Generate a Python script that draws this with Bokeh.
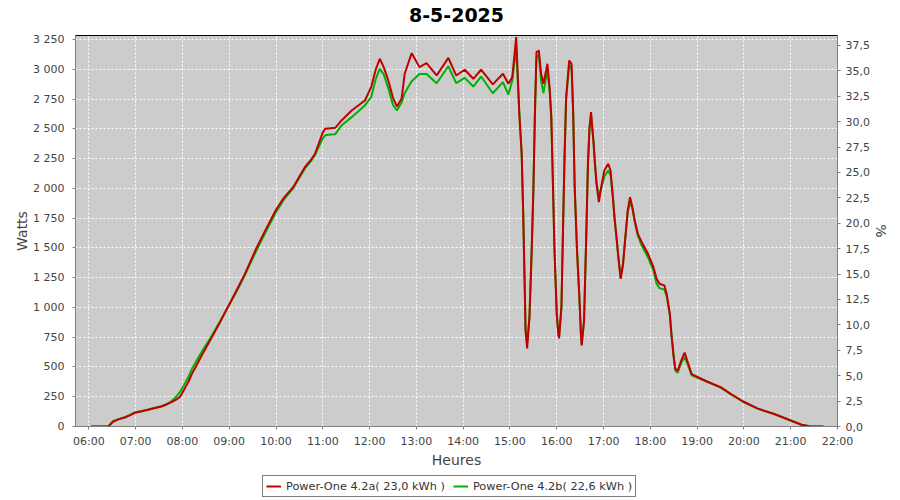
from bokeh.plotting import figure
from bokeh.layouts import column
from bokeh.models import (Range1d, LinearAxis, FixedTicker, CustomJSTickFormatter,
                          Legend, LegendItem, ColumnDataSource, Label)
from bokeh.embed import file_html
from bokeh.resources import INLINE

title = "8-5-2025"
series_a_name = "Power-One 4.2a( 23,0 kWh )"
series_b_name = "Power-One 4.2b( 22,6 kWh )"

times = ["06:03", "06:25", "06:31", "06:38", "06:46", "06:53", "06:59", "07:08", "07:16", "07:25",
         "07:33", "07:40", "07:46", "07:52", "07:57", "08:03", "08:08", "08:12", "08:17", "08:25",
         "08:37", "08:47", "08:58", "09:10", "09:20", "09:35", "09:45", "10:00", "10:10", "10:22",
         "10:30", "10:37", "10:45", "10:50", "10:55", "11:00", "11:03", "11:10", "11:16", "11:24",
         "11:37", "11:54", "12:02", "12:08", "12:13", "12:18", "12:24", "12:30", "12:35", "12:41",
         "12:45", "12:54", "13:04", "13:13", "13:26", "13:41", "13:51", "14:02", "14:13", "14:23",
         "14:38", "14:51", "14:58", "15:03", "15:08", "15:12", "15:15", "15:17", "15:19", "15:20",
         "15:22", "15:25", "15:28", "15:30", "15:32", "15:34", "15:37", "15:40", "15:43", "15:48",
         "15:51", "15:53", "15:55", "15:57", "16:00", "16:02", "16:03", "16:06", "16:08", "16:10",
         "16:12", "16:16", "16:19", "16:21", "16:23", "16:26", "16:29", "16:31", "16:32", "16:35",
         "16:38", "16:40", "16:42", "16:44", "16:47", "16:49", "16:51", "16:54", "16:57", "17:01",
         "17:06", "17:09", "17:12", "17:14", "17:17", "17:19", "17:22", "17:25", "17:28", "17:31",
         "17:34", "17:37", "17:40", "17:44", "17:49", "17:57", "18:04", "18:08", "18:12", "18:18",
         "18:21", "18:25", "18:27", "18:30", "18:32", "18:35", "18:40", "18:44", "18:48", "18:53",
         "18:59", "19:12", "19:30", "19:44", "19:59", "20:18", "20:39", "21:00", "21:14", "21:24",
         "21:42"]

watts_a = [0, 0, 40, 60, 75, 95, 115, 128, 140, 155,
           168, 185, 204, 225, 250, 320, 380, 440, 500, 600,
           740, 860, 1000, 1150, 1280, 1500, 1630, 1820, 1920, 2010,
           2100, 2178, 2240, 2290, 2380, 2470, 2500, 2505, 2508, 2570,
           2654, 2738, 2850, 3000, 3088, 3020, 2906, 2760, 2688, 2752,
           2962, 3135, 3018, 3051, 2948, 3096, 2948, 2996, 2920, 2996,
           2873, 2962, 2878, 2934, 3270, 2629, 2293, 1789, 1142, 806,
           655, 918, 1506, 1982, 2626, 3144, 3158, 2962, 2878, 3046,
           2836, 2600, 2066, 1506, 946, 778, 740, 1002, 1646, 2262,
           2766, 3074, 3046, 2654, 2010, 1478, 1086, 778, 680, 890,
           1646, 2206, 2514, 2640, 2402, 2206, 2038, 1884, 2010, 2150,
           2206, 2150, 1926, 1758, 1562, 1422, 1240, 1366, 1590, 1814,
           1926, 1842, 1730, 1618, 1548, 1450, 1338, 1240, 1198, 1184,
           1114, 946, 778, 582, 484, 470, 560, 620, 540, 440,
           420, 380, 330, 270, 210, 150, 105, 50, 15, 2,
           0]

watts_b = [0, 0, 45, 62, 78, 98, 118, 130, 142, 157,
           170, 190, 212, 250, 290, 360, 420, 480, 540, 630,
           755, 870, 1000, 1140, 1270, 1480, 1610, 1800, 1905, 2000,
           2090, 2165, 2230, 2280, 2350, 2420, 2445, 2452, 2455, 2528,
           2598, 2696, 2766, 2920, 3004, 2960, 2840, 2700, 2654, 2720,
           2800, 2900, 2960, 2960, 2883, 3025, 2883, 2928, 2855, 2939,
           2799, 2892, 2788, 2906, 3186, 2629, 2293, 1789, 1142, 820,
           700, 918, 1506, 1982, 2626, 3100, 3120, 2900, 2800, 3000,
           2800, 2600, 2066, 1506, 946, 778, 760, 1002, 1646, 2262,
           2740, 3040, 3000, 2654, 2010, 1478, 1086, 778, 690, 890,
           1646, 2206, 2500, 2600, 2400, 2206, 2050, 1930, 2000, 2100,
           2150, 2110, 1926, 1758, 1562, 1422, 1250, 1366, 1590, 1800,
           1890, 1830, 1720, 1600, 1520, 1420, 1310, 1200, 1160, 1150,
           1090, 940, 778, 582, 470, 450, 540, 580, 520, 430,
           415, 378, 328, 268, 208, 148, 104, 50, 15, 2,
           0]

hour_ticks = list(range(6, 23))
watt_ticks = list(range(0, 3251, 250))
pct_ticks = [i * 2.5 for i in range(16)]


def to_hours(s):
    h, m = s.split(":")
    return int(h) + int(m) / 60.0


xs = [to_hours(t) for t in times]
src = ColumnDataSource(dict(x=xs, a=watts_a, b=watts_b))

FONT = "DejaVu Sans"
TXT = "#444444"
RED = "#c00000"
GREEN = "#00b000"


def strip(h):
    f = figure(width=900, height=h, output_backend="svg", toolbar_location=None,
               x_axis_type=None, y_axis_type=None, min_border=0, title_location=None,
               x_range=Range1d(0, 1), y_range=Range1d(0, 1))
    f.outline_line_color = None
    f.background_fill_color = "white"
    f.border_fill_color = "white"
    f.grid.visible = False
    return f


# title strip
tp = strip(28)
tp.add_layout(Label(x=0.5, y=0.5, text=title, text_align="center", text_baseline="middle",
                    text_font=FONT, text_font_size="19px", text_font_style="bold",
                    text_color="black"))

# main chart
p = figure(width=900, height=446, output_backend="svg", toolbar_location=None,
           title_location=None,
           x_range=Range1d(5.715, 22.0), y_range=Range1d(0, 3283.6),
           min_border_left=75, min_border_right=63, min_border_top=7, min_border_bottom=48)

p.border_fill_color = "white"
p.background_fill_color = "#cccccc"
p.outline_line_color = "black"
p.outline_line_width = 1

for g in (p.xgrid, p.ygrid):
    g.grid_line_color = "white"
    g.grid_line_dash = "2 2"
    g.grid_line_width = 1
p.xgrid.ticker = FixedTicker(ticks=hour_ticks)
p.ygrid.ticker = FixedTicker(ticks=watt_ticks)

ya = p.yaxis[0]
ya.ticker = FixedTicker(ticks=watt_ticks)
ya.formatter = CustomJSTickFormatter(code="""
var s = Math.round(tick).toString();
return s.replace(/\\B(?=(\\d{3})+(?!\\d))/g, " ");
""")
ya.axis_label = "Watts"

xa = p.xaxis[0]
xa.ticker = FixedTicker(ticks=hour_ticks)
xa.formatter = CustomJSTickFormatter(code="""
var h = Math.floor(tick + 1e-9);
var m = Math.round((tick - h) * 60);
return (h < 10 ? '0' : '') + h + ':' + (m < 10 ? '0' : '') + m;
""")
xa.axis_label = "Heures"

p.extra_y_ranges = {"pct": Range1d(0, 38.48)}
ra = LinearAxis(y_range_name="pct", axis_label="%")
ra.ticker = FixedTicker(ticks=pct_ticks)
ra.formatter = CustomJSTickFormatter(code="return tick.toFixed(1).replace('.', ',');")
p.add_layout(ra, "right")

for ax in (ya, xa, ra):
    ax.axis_line_color = "#808080"
    ax.major_tick_line_color = "#808080"
    ax.major_tick_out = 3
    ax.major_tick_in = 0
    ax.minor_tick_line_color = None
    ax.major_label_text_font = FONT
    ax.major_label_text_font_size = "11px"
    ax.major_label_text_color = TXT
    ax.axis_label_text_font = FONT
    ax.axis_label_text_font_size = "14px"
    ax.axis_label_text_font_style = "normal"
    ax.axis_label_text_color = TXT

ya.major_label_standoff = 8
ya.axis_label_standoff = 0
ra.major_label_standoff = 5
ra.axis_label_standoff = 0
xa.major_label_standoff = 5
xa.axis_label_standoff = 1

rb = p.line("x", "b", source=src, line_color=GREEN, line_width=2)
rr = p.line("x", "a", source=src, line_color=RED, line_width=2)

# legend strip below the chart (its lines lie outside the strip's ranges)
lp = strip(26)
la = lp.line("x", "a", source=src, line_color=RED, line_width=2)
lb = lp.line("x", "b", source=src, line_color=GREEN, line_width=2)

legend = Legend(items=[LegendItem(label=series_a_name, renderers=[la]),
                       LegendItem(label=series_b_name, renderers=[lb])],
                orientation="horizontal", location=(187, 3))
legend.border_line_color = "black"
legend.border_line_width = 1
legend.background_fill_color = "white"
legend.label_text_font = FONT
legend.label_text_font_size = "11.3px"
legend.label_text_color = "#333333"
legend.glyph_width = 15
legend.glyph_height = 14
legend.label_height = 14
legend.label_standoff = 5
legend.spacing = 8
legend.padding = 3
legend.margin = 0
lp.add_layout(legend, "center")

layout = column(tp, p, lp, spacing=0)
open("out.html", "w").write(file_html(layout, INLINE))
